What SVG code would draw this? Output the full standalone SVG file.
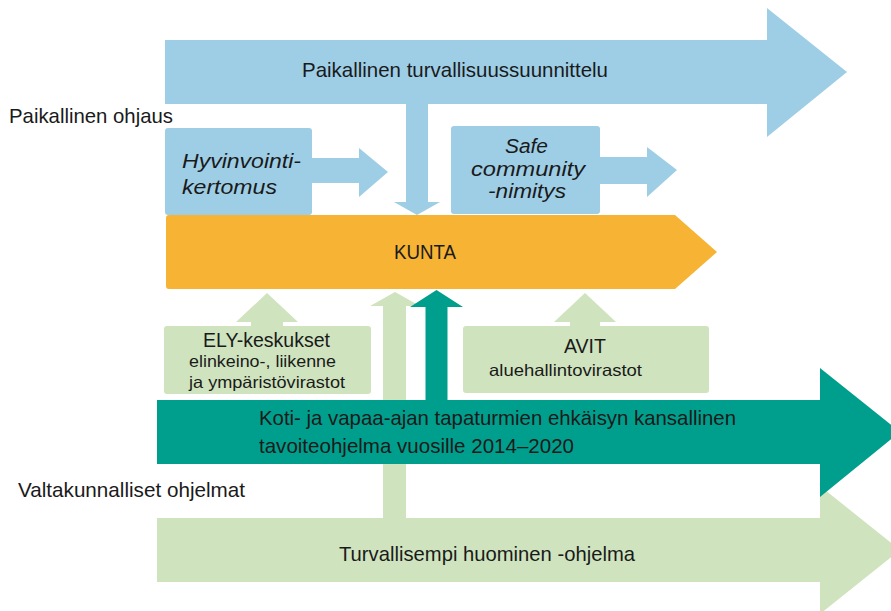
<svg xmlns="http://www.w3.org/2000/svg" width="891" height="611" viewBox="0 0 891 611">
<style>
text{font-family:"Liberation Sans",Arial,sans-serif;fill:#1a1a1a}
.blue{fill:#9ECEE6}
.orange{fill:#F7B334}
.teal{fill:#009F8D}
.green{fill:#CFE4BE}
.t21{font-size:21px}
.t20{font-size:20px}
.t17{font-size:16.5px}
.it{font-size:21px;font-style:italic}
.its{font-size:19.5px;font-style:italic}
</style>
<rect width="891" height="611" fill="#ffffff"/>
<text class="t21" x="9" y="123" textLength="164" lengthAdjust="spacingAndGlyphs">Paikallinen ohjaus</text>
<text class="t21" x="18" y="497" textLength="227" lengthAdjust="spacingAndGlyphs">Valtakunnalliset ohjelmat</text>

<g id="paikallinen-turvallisuussuunnittelu">
<polygon class="blue" points="165,40 767,40 767,8 847,72 767,137 767,104 165,104"/>
<text class="t21" x="302" y="77" textLength="306" lengthAdjust="spacingAndGlyphs">Paikallinen turvallisuussuunnittelu</text>
</g>
<g id="hyvinvointikertomus">
<rect class="blue" x="165" y="128" width="147" height="87" rx="3"/>
<text class="it" x="182" y="168" textLength="119" lengthAdjust="spacingAndGlyphs">Hyvinvointi-</text>
<text class="it" x="182" y="194" textLength="95" lengthAdjust="spacingAndGlyphs">kertomus</text>
</g>
<g id="safe-community">
<rect class="blue" x="451" y="126" width="149" height="88" rx="3"/>
<text class="its" x="505" y="153" textLength="43" lengthAdjust="spacingAndGlyphs">Safe</text>
<text class="its" x="471" y="176" textLength="114" lengthAdjust="spacingAndGlyphs">community</text>
<text class="its" x="488" y="198" textLength="78" lengthAdjust="spacingAndGlyphs">-nimitys</text>
</g>
<g id="kunta">
<path class="orange" d="M169,215 L675,215 L717,252 L675,289 L169,289 Q166,289 166,286 L166,218 Q166,215 169,215 Z"/>
<text class="t21" x="394" y="259" textLength="62" lengthAdjust="spacingAndGlyphs">KUNTA</text>
</g>
<g id="connectors">
<polygon class="blue" points="406,104 428,104 428,202 440,202 417,215 394,202 406,202"/>
<polygon class="blue" points="312,158 359,158 359,148 388,172 359,197 359,183 312,183"/>
<polygon class="blue" points="600,157 647,157 647,147 677,170 647,197 647,184 600,184"/>
<polygon class="green" points="251,335 251,322 236,322 267,293 298,322 283,322 283,335"/>
<polygon class="green" points="570,335 570,322 554,322 585,293 616,322 600,322 600,335"/>
<polygon class="green" points="383,522 383,306 370,306 395,292 420,306 406,306 406,522"/>
<polygon class="teal" points="425.5,402 425.5,307 410,307 436.5,290 463,307 447.5,307 447.5,402"/>
</g>
<g id="ely-keskukset">
<rect class="green" x="164" y="326" width="207" height="68" rx="3"/>
<text class="t20" x="203" y="347" textLength="127" lengthAdjust="spacingAndGlyphs">ELY-keskukset</text>
<text class="t17" x="189" y="367" textLength="147" lengthAdjust="spacingAndGlyphs">elinkeino-, liikenne</text>
<text class="t17" x="189" y="388" textLength="156" lengthAdjust="spacingAndGlyphs">ja ympäristövirastot</text>
</g>
<g id="avit">
<rect class="green" x="463" y="326" width="246" height="67" rx="3"/>
<text class="t21" x="564" y="353" textLength="42" lengthAdjust="spacingAndGlyphs">AVIT</text>
<text class="t17" x="489" y="376" textLength="153" lengthAdjust="spacingAndGlyphs">aluehallintovirastot</text>
</g>
<g id="turvallisempi-huominen">
<polygon class="green" points="157,518 820,518 820,486 900,550 820,614 820,582 157,582"/>
<text class="t21" x="339" y="561" textLength="296" lengthAdjust="spacingAndGlyphs">Turvallisempi huominen -ohjelma</text>
</g>
<g id="kansallinen-tavoiteohjelma">
<polygon class="teal" points="157,400 820,400 820,368 900,432 820,497 820,464 157,464"/>
<text class="t21" x="259" y="425" textLength="477" lengthAdjust="spacingAndGlyphs">Koti- ja vapaa-ajan tapaturmien ehkäisyn kansallinen</text>
<text class="t21" x="259" y="453" textLength="315" lengthAdjust="spacingAndGlyphs">tavoiteohjelma vuosille 2014–2020</text>
</g>
</svg>
